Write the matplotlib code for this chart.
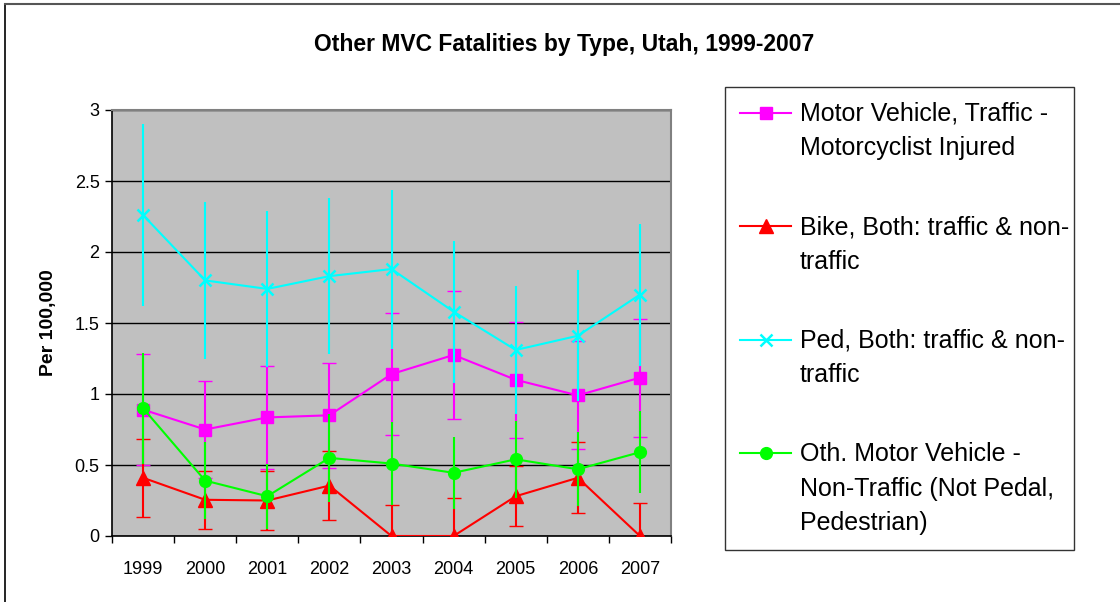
import matplotlib
matplotlib.use("Agg")
import matplotlib.pyplot as plt
from matplotlib.lines import Line2D
import numpy as np

plt.rcParams['font.family'] = ['Liberation Sans', 'DejaVu Sans']

# ---------------- data ----------------
years = ['1999', '2000', '2001', '2002', '2003', '2004', '2005', '2006', '2007']

motor = [0.89, 0.75, 0.835, 0.85, 1.14, 1.275, 1.10, 0.99, 1.115]
motor_err = [0.39, 0.345, 0.365, 0.37, 0.43, 0.45, 0.41, 0.38, 0.415]

bike = [0.41, 0.255, 0.25, 0.355, 0.0, 0.0, 0.28, 0.41, 0.0]
bike_err = [0.275, 0.205, 0.205, 0.245, 0.22, 0.27, 0.21, 0.25, 0.23]

ped = [2.26, 1.80, 1.74, 1.83, 1.88, 1.58, 1.31, 1.41, 1.70]
ped_err = [0.64, 0.55, 0.55, 0.55, 0.56, 0.50, 0.45, 0.46, 0.50]

other = [0.90, 0.39, 0.28, 0.55, 0.51, 0.445, 0.54, 0.47, 0.59]
other_err = [0.39, 0.27, 0.23, 0.31, 0.29, 0.255, 0.27, 0.26, 0.29]

labels = [
    'Motor Vehicle, Traffic -\nMotorcyclist Injured',
    'Bike, Both: traffic & non-\ntraffic',
    'Ped, Both: traffic & non-\ntraffic',
    'Oth. Motor Vehicle -\nNon-Traffic (Not Pedal,\nPedestrian)',
]
yticks = [0, 0.5, 1, 1.5, 2, 2.5, 3]
ytick_labels = ['0', '0.5', '1', '1.5', '2', '2.5', '3']

title = 'Other MVC Fatalities by Type, Utah, 1999-2007'
ylabel = 'Per 100,000'

# ---------------- figure ----------------
W, H = 1120, 602
fig = plt.figure(figsize=(W / 100, H / 100), dpi=100)
fig.patch.set_facecolor('white')

ax = fig.add_axes([112 / W, 1 - 536 / H, (671 - 112) / W, (536 - 110) / H])
ax.set_facecolor('#C0C0C0')

x = np.arange(len(years))

series = [
    (motor, motor_err, '#FF00FF', 's', 8.5, 5.0, 3),
    (bike, bike_err, '#FF0000', '^', 10, 5.0, 4),
    (ped, ped_err, '#00FFFF', 'x', 9, 0, 5),
    (other, other_err, '#00FF00', 'o', 8.5, 0, 6),
]
handles = []
for vals, err, col, mk, ms, cap, z in series:
    c = ax.errorbar(x, vals, yerr=err, color=col, ecolor=col, marker=mk,
                    markersize=ms, markerfacecolor=col, markeredgecolor=col,
                    markeredgewidth=1.8 if mk == 'x' else 1,
                    linewidth=1.5, elinewidth=1.5, capsize=cap,
                    capthick=1.5, zorder=z)
    handles.append(c[0])

ax.set_xlim(-0.5, len(years) - 0.5)
ax.set_ylim(0, 3)

# grid
ax.set_yticks(yticks)
ax.set_yticklabels(ytick_labels, fontsize=13)
ax.yaxis.grid(True, color='#000000', linewidth=1.0, zorder=1)
ax.set_axisbelow(True)

# x ticks: marks at category boundaries, labels at centres
ax.set_xticks(np.arange(-0.5, len(years), 1.0))
ax.set_xticklabels([])
ax.set_xticks(x, minor=True)
ax.set_xticklabels(years, minor=True, fontsize=13)
ax.tick_params(axis='x', which='major', direction='out', length=5, width=1, color='black')
ax.tick_params(axis='x', which='minor', length=0, pad=18)
ax.tick_params(axis='y', direction='out', length=5, width=1, color='black', pad=4)

for s in ['left', 'bottom']:
    ax.spines[s].set_color('black')
    ax.spines[s].set_linewidth(1.2)
for s in ['top', 'right']:
    ax.spines[s].set_color('#808080')
    ax.spines[s].set_linewidth(1.5)

ax.set_ylabel(ylabel, fontsize=14, fontweight='bold')
ax.yaxis.set_label_coords(-0.098, 0.5)

fig.text(564 / W, 1 - 44 / H, title, ha='center', va='center',
         fontsize=16.5, fontweight='bold')

# legend
LFS = 18
leg = fig.legend(handles=handles, labels=labels, loc='upper left',
                 bbox_to_anchor=(725 / W, 1 - 548 / H, (1074 - 725) / W, (548 - 87) / H),
                 mode='expand', borderaxespad=0, fontsize=LFS,
                 frameon=True, fancybox=False, shadow=False,
                 handlelength=2.05, handletextpad=0.33, handleheight=1.2,
                 borderpad=0.6, labelspacing=2.2)
leg.get_frame().set_edgecolor('black')
leg.get_frame().set_linewidth(1.0)
for t in leg.get_texts():
    t.set_linespacing(1.55)
# align legend handles with the first text line
for col in leg._legend_handle_box.get_children():
    for row in col.get_children():
        row.align = 'top'

# outer chart border (partially visible)
fig.add_artist(Line2D([5 / W, 5 / W], [0, 1 - 4 / H], transform=fig.transFigure,
                      color='black', linewidth=1.2))
fig.add_artist(Line2D([5 / W, 1], [1 - 4 / H, 1 - 4 / H], transform=fig.transFigure,
                      color='#555555', linewidth=1.5))

fig.savefig('out.png', dpi=100)
